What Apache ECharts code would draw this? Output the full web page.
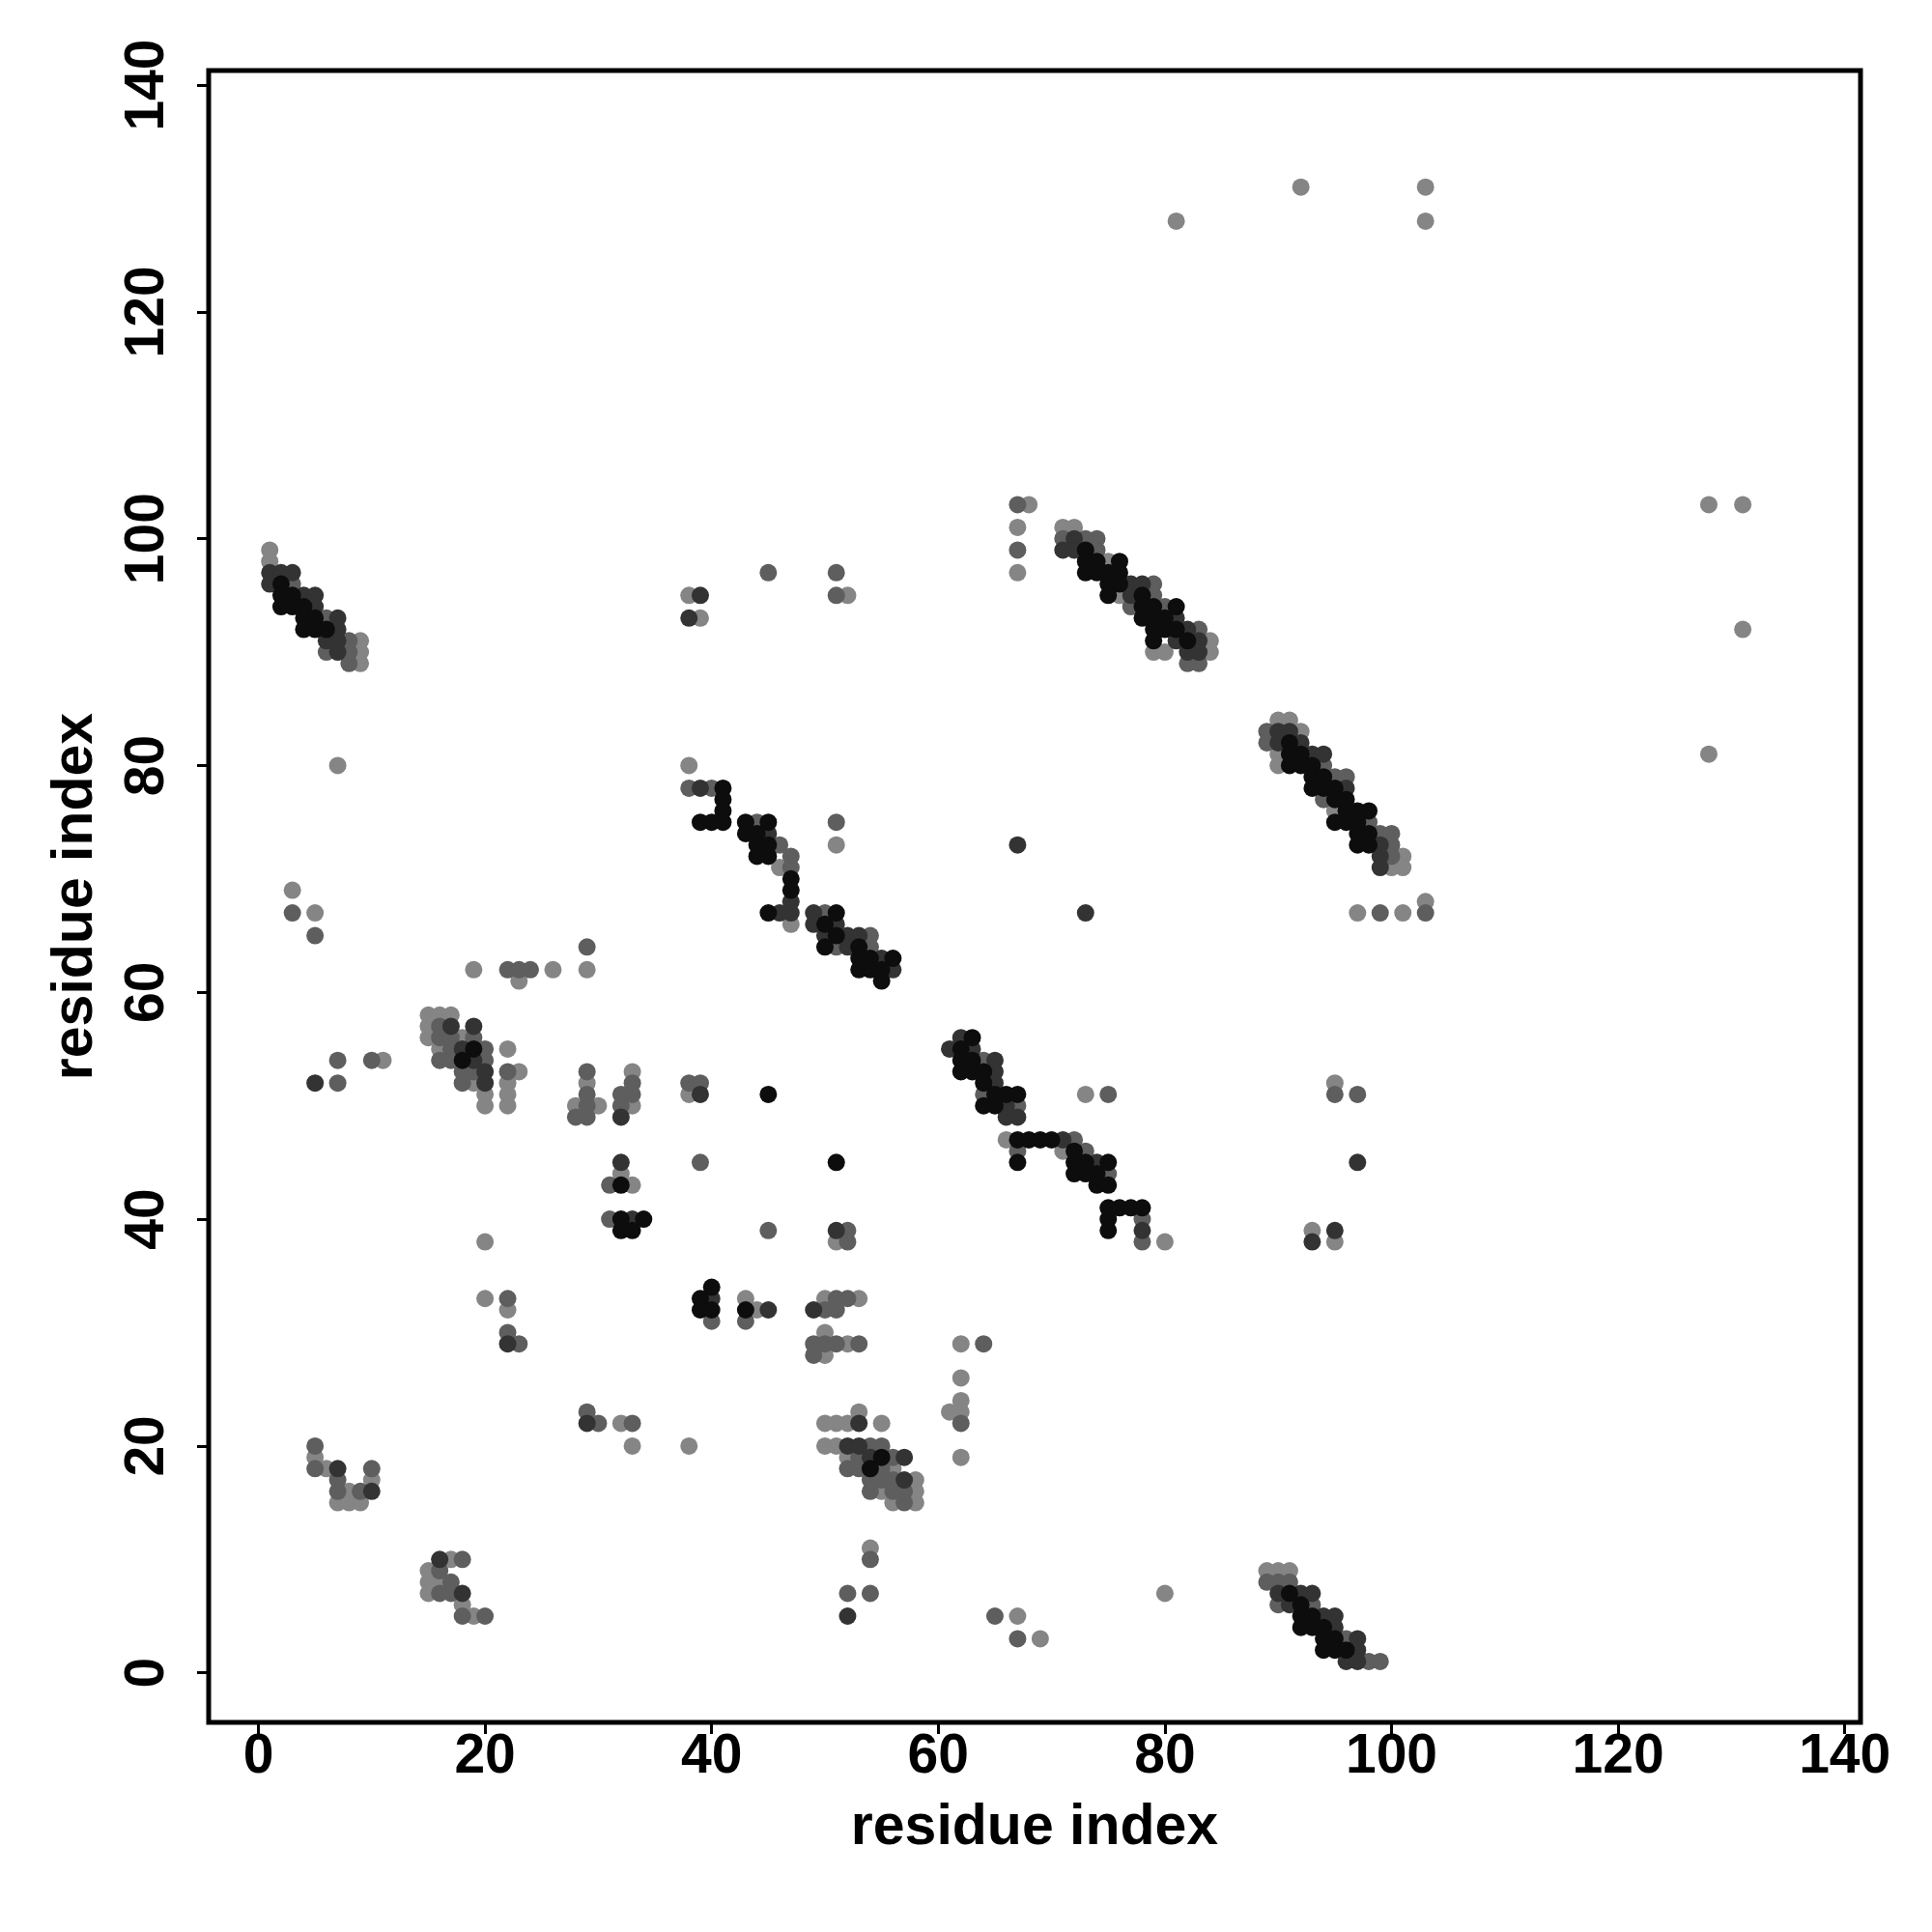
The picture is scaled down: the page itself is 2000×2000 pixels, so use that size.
<!DOCTYPE html>
<html>
<head>
<meta charset="utf-8">
<script src="https://cdn.jsdelivr.net/npm/echarts@6/dist/echarts.min.js"></script>
<style>html,body{margin:0;padding:0;background:#fff}#c{width:2000px;height:2000px}</style>
</head>
<body>
<div id="c"></div>
<script>
// tick labels
const xTicks = [0, 20, 40, 60, 80, 100, 120, 140];
const yTicks = [0, 20, 40, 60, 80, 100, 120, 140];
const xTitle = 'residue index';
const yTitle = 'residue index';

// contact points grouped by grey level: [residue i, residue j]
const lightPts = [
 [1,99],[1,98],[9,91],[9,90],[9,89],[7,80],
 [38,95],[52,95],[39,93],[38,80],[46,71],[51,73],
 [68,103],[67,101],[67,97],
 [71,101],[72,101],[75,98],[76,95],[84,91],[79,90],[80,90],[84,90],
 [90,84],[91,84],[92,83],[90,81],[90,80],[95,76],[101,72],[100,71],[101,71],
 [3,69],[5,67],[29,62],[19,62],[26,62],[23,61],[15,58],[16,58],[17,58],[15,57],[15,56],[18,56],[16,55],
 [20,51],[20,50],[19,52],[22,55],[23,53],[22,52],[22,51],[22,50],[11,54],[29,52],[28,50],[30,50],[20,38],[32,44],
 [47,66],[66,47],[33,53],[33,50],[38,51],[33,43],[51,38],
 [97,67],[101,67],[103,68],[73,51],[95,52],[71,46],[80,38],[93,39],[95,38],
 [20,33],[22,32],[32,22],[33,20],[5,19],[6,18],[10,17],[8,16],[7,15],[8,15],[9,15],[17,10],[15,9],[15,8],[16,8],[15,7],[18,6],[19,5],
 [43,33],[44,32],[50,33],[53,33],[50,30],[52,29],[50,28],[62,29],[62,26],[62,24],[61,23],[62,23],[62,19],[38,20],
 [53,23],[50,22],[51,22],[52,22],[55,22],[50,20],[51,20],[52,19],[56,18],[58,17],[55,16],[58,16],[56,15],[58,15],[54,11],[67,5],[69,3],
 [80,7],[89,9],[90,9],[91,9],
 [81,128],[92,131],[103,131],[103,128],[128,103],[131,103],[131,92],[128,81]
];
const midPts = [
 [3,96],[6,93],[8,91],[6,90],[8,90],[8,89],
 [45,97],[51,97],[51,95],[38,78],[40,78],[44,75],[46,73],[47,72],[47,71],[51,75],
 [67,103],[67,99],
 [71,100],[73,100],[74,100],[74,99],[79,96],[79,95],[77,94],[80,94],[83,92],[82,89],[83,89],
 [89,83],[89,82],[94,80],[95,79],[96,79],[94,77],[98,75],[99,74],[100,74],[100,73],[100,72],
 [3,67],[5,65],[29,64],[22,62],[23,62],[24,62],[16,57],[16,56],[17,56],[19,56],[17,55],[20,55],[16,54],[17,54],[20,54],
 [18,53],[19,53],[18,52],[22,53],[7,54],[7,52],[10,54],[29,53],[29,51],[28,49],[29,49],[32,51],[32,50],[31,43],[31,40],[29,50],
 [50,67],[54,65],[51,64],[54,64],[64,54],[64,51],[33,52],[33,51],[38,52],[39,52],[39,45],[45,39],[52,39],[52,38],
 [99,67],[103,67],[67,50],[75,51],[95,51],[97,51],[72,47],[67,46],[73,46],[75,44],[78,40],[78,38],
 [22,33],[22,30],[23,29],[29,23],[30,22],[33,22],[5,20],[5,18],[10,18],[7,17],[7,16],[9,16],[18,10],[16,9],[17,8],[16,7],[17,7],[18,5],[20,5],
 [40,31],[43,31],[51,33],[52,33],[50,32],[51,32],[49,29],[50,29],[51,29],[53,29],[49,28],[64,29],[62,22],
 [54,20],[55,20],[53,19],[56,19],[52,18],[53,18],[55,18],[54,17],[55,17],[56,17],[54,16],[56,16],[57,16],[57,15],
 [54,10],[52,7],[54,7],[65,5],[67,3],
 [89,8],[90,8],[91,8],[90,6],[93,6],[96,3],[98,1],[99,1]
];
const darkPts = [
 [1,97],[1,96],[2,97],[3,97],[4,95],[5,95],[5,94],[7,93],[7,92],[6,91],[7,91],[7,90],
 [39,95],[38,93],[39,78],[45,74],[67,73],
 [72,100],[71,99],[72,99],[77,96],[78,96],[77,95],[81,93],[82,92],[81,91],[83,91],[82,90],[83,90],
 [90,83],[91,83],[90,82],[92,82],[93,81],[94,81],[96,78],[99,73],[99,72],[99,71],
 [17,57],[19,57],[18,55],[19,54],[20,53],[20,52],[5,52],[32,49],[32,45],
 [47,68],[47,67],[46,67],[49,67],[49,66],[51,66],[50,65],[52,65],[53,65],[52,64],[55,63],[56,62],
 [61,55],[62,56],[63,55],[65,54],[65,53],[65,52],[66,49],[66,50],[39,51],[33,40],[51,39],
 [73,67],[67,49],[97,45],[71,47],[74,45],[78,39],[95,39],[93,38],
 [22,29],[29,22],[7,18],[10,16],[16,10],[18,7],
 [40,33],[45,32],[49,32],[53,22],[52,20],[53,20],[54,19],[57,19],[57,17],[52,5],
 [90,7],[92,7],[93,7],[91,6],[94,5],[95,5],[95,4],[97,3],[97,2],[96,1],[97,1]
];
const blackPts = [
 [2,96],[2,95],[3,95],[2,94],[3,94],[4,94],[4,93],[5,93],[4,92],[5,92],[6,92],
 [41,78],[41,77],[41,76],[39,75],[40,75],[41,75],[43,75],[45,75],[43,74],[44,74],[44,73],[45,73],[44,72],[45,72],
 [73,99],[73,98],[74,98],[76,98],[73,97],[74,97],[75,97],[76,97],[75,96],[76,96],[75,95],[78,95],[78,94],[79,94],[81,94],
 [78,93],[79,93],[80,93],[79,92],[80,92],[81,92],[79,91],[82,91],
 [91,82],[91,81],[92,81],[91,80],[92,80],[93,80],[93,79],[94,79],[93,78],[94,78],[95,78],[95,77],[96,77],[96,76],[97,76],[98,76],
 [95,75],[96,75],[97,75],[97,74],[98,74],[97,73],[98,73],
 [19,55],[18,54],[32,43],[32,40],[32,39],
 [47,70],[47,69],[45,67],[51,67],[50,66],[51,65],[50,64],[53,64],[53,63],[54,63],[56,63],[53,62],[54,62],[55,62],[55,61],
 [63,56],[62,55],[62,54],[63,54],[62,53],[63,53],[64,53],[64,52],[65,51],[66,51],[64,50],[65,50],[45,51],[51,45],[34,40],[33,39],[40,34],
 [67,51],[67,47],[68,47],[69,47],[70,47],[72,46],[67,45],[72,45],[73,45],[75,45],[72,44],[73,44],[74,44],[74,43],[75,43],
 [75,41],[76,41],[77,41],[78,41],[75,40],[75,39],
 [39,33],[39,32],[40,32],[43,32],[55,19],[54,18],
 [91,7],[92,6],[92,5],[93,5],[92,4],[93,4],[94,4],[94,3],[95,3],[94,2],[95,2],[96,2]
];

const FONT = 'Liberation Sans';
const chart = echarts.init(document.getElementById('c'), null, {renderer: 'canvas'});
function mk(name, data, color) {
  return {type: 'scatter', name, data, symbol: 'circle', symbolSize: 18,
    itemStyle: {color, opacity: 1}, silent: true, animation: false};
}
const labelStyle = {fontFamily: FONT, fontWeight: 'bold', fontSize: 57, color: '#000'};
chart.setOption({
  backgroundColor: '#ffffff',
  animation: false,
  grid: {left: 216, top: 73, width: 1710, height: 1710, show: true,
    borderColor: '#000', borderWidth: 5, backgroundColor: 'transparent'},
  xAxis: {type: 'value', min: -4.39, max: 141.39, position: 'bottom',
    name: xTitle, nameLocation: 'middle', nameGap: 80,
    nameTextStyle: {fontFamily: FONT, fontWeight: 'bold', fontSize: 59, color: '#000'},
    axisLine: {show: false, onZero: false}, splitLine: {show: false},
    axisTick: {show: true, customValues: xTicks, length: 12, lineStyle: {color: '#000', width: 3}},
    axisLabel: Object.assign({customValues: xTicks, margin: 8}, labelStyle)},
  yAxis: {type: 'value', min: -4.37, max: 141.28, position: 'left',
    name: yTitle, nameLocation: 'middle', nameGap: 108, nameRotate: 90,
    nameTextStyle: {fontFamily: FONT, fontWeight: 'bold', fontSize: 59, color: '#000'},
    axisLine: {show: false, onZero: false}, splitLine: {show: false},
    axisTick: {show: true, customValues: yTicks, length: 12, lineStyle: {color: '#000', width: 3}},
    axisLabel: Object.assign({customValues: yTicks, rotate: 90, margin: 34}, labelStyle)},
  series: [
    mk('light', lightPts, '#858585'),
    mk('mid', midPts, '#5e5e5e'),
    mk('dark', darkPts, '#333333'),
    mk('black', blackPts, '#0d0d0d')
  ]
});
</script>
</body>
</html>
